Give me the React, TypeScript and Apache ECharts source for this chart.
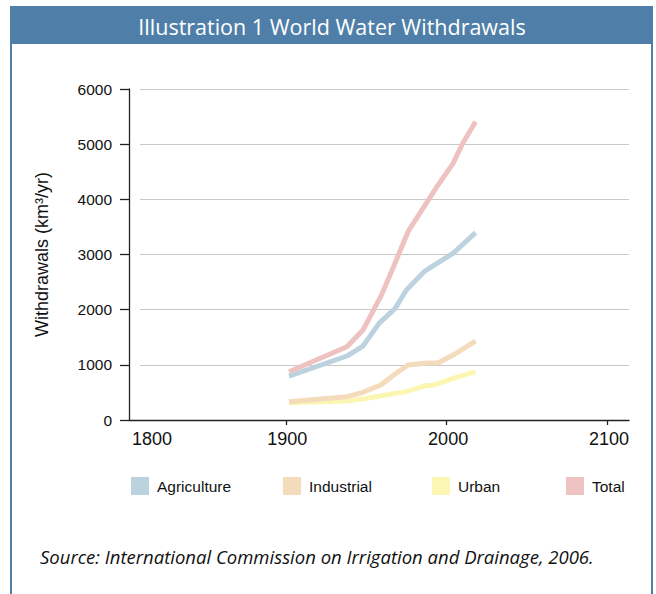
import React, { useEffect, useRef } from 'react';
import * as echarts from 'echarts';

const TITLE = 'Illustration 1 World Water Withdrawals';
const SOURCE = 'Source: International Commission on Irrigation and Drainage, 2006.';
const Y_NAME = 'Withdrawals (km³/yr)';

const seriesNames = ['Agriculture', 'Industrial', 'Urban', 'Total'];
const seriesColors = ['#bcd3df', '#f3dbbb', '#fbf7b2', '#efc2c2'];

const agricultureYears = [1902, 1938, 1948, 1958, 1968, 1975, 1986, 1994, 2004, 2018];
const agricultureValues = [797, 1160, 1341, 1752, 2024, 2356, 2688, 2840, 3021, 3396];

const industrialYears = [1902, 1938, 1948, 1959, 1968, 1976, 1986, 1995, 2004, 2018];
const industrialValues = [332, 423, 502, 634, 834, 997, 1027, 1039, 1178, 1432];

const urbanYears = [1902, 1938, 1948, 1959, 1968, 1975, 1986, 1992, 2004, 2018];
const urbanValues = [314, 344, 381, 435, 483, 514, 616, 634, 755, 876];

const totalYears = [1902, 1938, 1948, 1959, 1967, 1976, 1986, 1994, 2004, 2010, 2018];
const totalValues = [875, 1329, 1631, 2235, 2779, 3413, 3866, 4229, 4653, 5015, 5407];

const X_MIN = 1802.5;
const X_MAX = 2113.4;
const xTickValues = [1900, 2000, 2100];
const xLabelValues = [X_MIN, 1900, 2000, 2100];
const xTickLabels = ['1800', '1900', '2000', '2100'];

const Y_MIN = 0;
const Y_MAX = 6000;
const Y_INTERVAL = 1000;

const BLUE = '#4f7fa8';
const FONT = "'Liberation Sans', Arial, sans-serif";

const legendLefts = [131, 283, 432, 566];

function zip(xs: number[], ys: number[]) {
  return xs.map((x, i) => [x, ys[i]]);
}

export default function App() {
  const ref = useRef<HTMLDivElement>(null);
  useEffect(() => {
    if (!ref.current) return;
    const chart = echarts.init(ref.current, null, { renderer: 'svg' });
    const seriesData = [
      zip(agricultureYears, agricultureValues),
      zip(industrialYears, industrialValues),
      zip(urbanYears, urbanValues),
      zip(totalYears, totalValues),
    ];
    const grid = { left: 129, right: 27, top: 89, bottom: 174 };
    const option: any = {
      animation: false,
      backgroundColor: '#ffffff',
      grid: [
        { ...grid },
        { ...grid, left: 140 },
      ],
      xAxis: [
        {
          type: 'value',
          gridIndex: 0,
          min: X_MIN,
          max: X_MAX,
          axisLine: { show: true, lineStyle: { color: '#222', width: 1.3 } },
          axisTick: { show: true, customValues: xTickValues, length: 5, lineStyle: { color: '#222', width: 1.3 } },
          axisLabel: {
            customValues: xLabelValues,
            formatter: (v: number) => {
              const i = xLabelValues.indexOf(v);
              return i >= 0 ? xTickLabels[i] : '';
            },
            fontSize: 18,
            fontFamily: FONT,
            color: '#111',
            margin: 10,
            alignMinLabel: 'left',
            padding: [0, 0, 0, 3],
          },
          splitLine: { show: false },
          z: 5,
        },
        {
          type: 'value',
          gridIndex: 1,
          min: 0,
          max: 1,
          show: false,
        },
      ],
      yAxis: [
        {
          type: 'value',
          gridIndex: 0,
          min: Y_MIN,
          max: Y_MAX,
          interval: Y_INTERVAL,
          axisLine: { show: true, lineStyle: { color: '#222', width: 1.3 } },
          axisTick: { show: true, length: 9, lineStyle: { color: '#222', width: 1.3 } },
          axisLabel: {
            formatter: (v: number) => String(v),
            fontSize: 15.5,
            fontFamily: FONT,
            color: '#111',
            margin: 17,
            padding: [0, 0, 6, 0],
          },
          splitLine: { show: false },
          name: Y_NAME,
          nameLocation: 'middle',
          nameGap: 78,
          nameTextStyle: { fontSize: 18, fontFamily: FONT, color: '#111' },
          z: 5,
        },
        {
          type: 'value',
          gridIndex: 1,
          min: Y_MIN,
          max: Y_MAX,
          interval: Y_INTERVAL,
          axisLine: { show: false },
          axisTick: { show: false },
          axisLabel: { show: false },
          splitLine: { show: true, showMinLine: false, lineStyle: { color: '#c8c8c8', width: 1.2 } },
        },
      ],
      legend: seriesNames.map((n, i) => ({
        data: [n],
        left: legendLefts[i],
        top: 477,
        itemWidth: 18,
        itemHeight: 18,
        icon: 'rect',
        selectedMode: false,
        padding: 0,
        textStyle: { fontSize: 15.5, fontFamily: FONT, color: '#111', padding: [0, 0, 0, 3] },
      })),
      series: [2, 1, 0, 3].map((i) => ({
        name: seriesNames[i],
        type: 'line',
        xAxisIndex: 0,
        yAxisIndex: 0,
        data: seriesData[i],
        showSymbol: false,
        symbol: 'none',
        color: seriesColors[i],
        itemStyle: { color: seriesColors[i] },
        lineStyle: { color: seriesColors[i], width: 5 },
        z: 3,
      })),
      graphic: {
        elements: [
          {
            type: 'rect',
            shape: { x: 11, y: 7, width: 641, height: 620 },
            style: { fill: 'transparent', stroke: BLUE, lineWidth: 2 },
            silent: true,
          },
          {
            type: 'rect',
            shape: { x: 10, y: 7, width: 643, height: 37 },
            style: { fill: BLUE },
            silent: true,
          },
          {
            type: 'text',
            x: 332,
            y: 26,
            style: {
              text: TITLE,
              fill: '#ffffff',
              font: "21.5px 'Open Sans', sans-serif",
              textAlign: 'center',
              textVerticalAlign: 'middle',
            },
          },
          {
            type: 'text',
            x: 40,
            y: 556,
            style: {
              text: SOURCE,
              fill: '#111',
              font: "italic 18.5px 'Open Sans', sans-serif",
              textAlign: 'left',
              textVerticalAlign: 'middle',
            },
          },
        ],
      },
    };
    chart.setOption(option);
    return () => chart.dispose();
  }, []);
  return (
    <div
      ref={ref}
      style={{ position: 'fixed', left: 0, top: 0, width: 656, height: 594 }}
    />
  );
}
